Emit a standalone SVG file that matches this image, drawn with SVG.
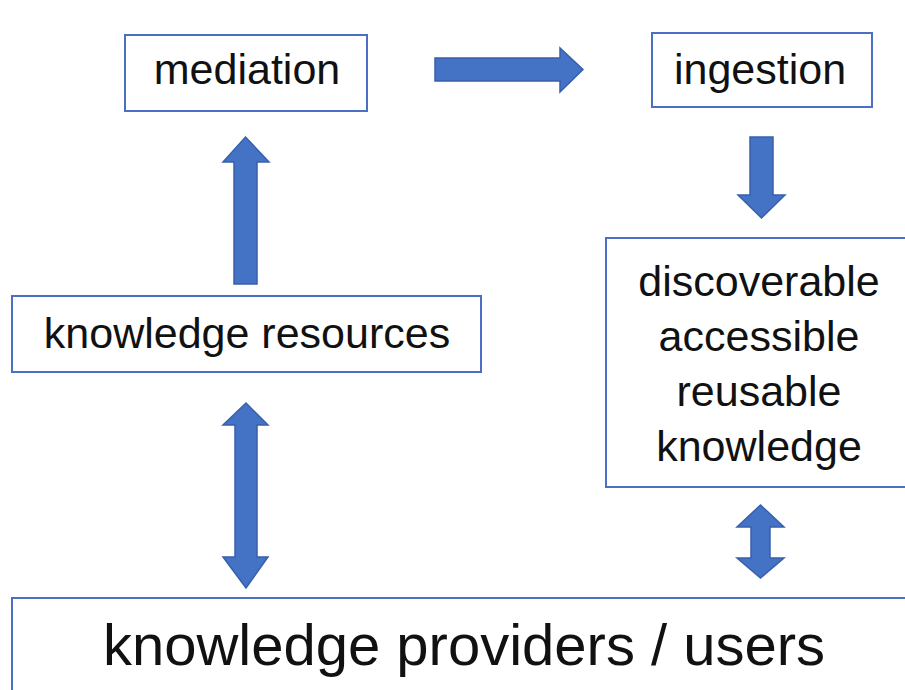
<svg xmlns="http://www.w3.org/2000/svg" width="905" height="690" viewBox="0 0 905 690">
<style>
.box{fill:#fff;stroke:#4A6FC4;stroke-width:2}
.t{font-family:"Liberation Sans",Arial,sans-serif;font-size:43px;fill:#111;text-anchor:middle}
.big{font-size:58px}
.arr{fill:#4472C4;stroke:#3760AC;stroke-width:1.5;stroke-linejoin:miter}
</style>
<rect width="905" height="690" fill="#fff"/>
<g id="mediation"><rect class="box" x="125" y="35" width="242" height="76"/><text class="t" x="247" y="84">mediation</text></g>
<g id="ingestion"><rect class="box" x="652" y="33" width="220" height="74"/><text class="t" x="760" y="84">ingestion</text></g>
<g id="knowledge-resources"><rect class="box" x="12" y="296" width="469" height="76"/><text class="t" x="247" y="348">knowledge resources</text></g>
<g id="discoverable-knowledge"><rect class="box" x="606" y="238" width="310" height="249"/>
<text class="t" x="759" y="296">discoverable</text>
<text class="t" x="759" y="351">accessible</text>
<text class="t" x="759" y="406">reusable</text>
<text class="t" x="759" y="461">knowledge</text></g>
<g id="providers-users"><rect class="box" x="12" y="598" width="910" height="100"/><text class="t big" x="464" y="665">knowledge providers / users</text></g>
<g id="connectors">
<path class="arr" d="M435,58 H560 V48 L583,69.5 L560,92 V81 H435 Z"/>
<path class="arr" d="M750,137 H773 V195 H785 L761.5,218 L738,195 H750 Z"/>
<path class="arr" d="M234,284 V162 H223 L245.5,137 L269,162 H257 V284 Z"/>
<path class="arr" d="M235,425 H223 L246,403 L268,425 H257 V557 H268 L246,588 L223,557 H235 Z"/>
<path class="arr" d="M751,527 H737 L760.5,505 L784,527 H770 V558 H784 L760.5,578 L737,558 H751 Z"/>
</g>
</svg>
